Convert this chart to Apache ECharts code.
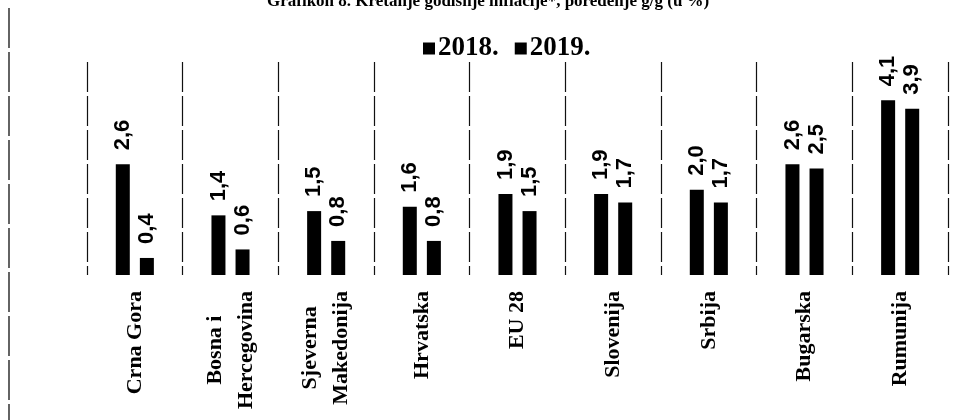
<!DOCTYPE html>
<html>
<head>
<meta charset="utf-8">
<script src="https://cdn.jsdelivr.net/npm/echarts@6/dist/echarts.min.js"></script>
<style>html,body{margin:0;padding:0;background:#fff;}#c{width:971px;height:420px;}</style>
</head>
<body>
<div id="c"></div>
<script>
const titleText = 'Grafikon 8. Kretanje godišnje inflacije*, poređenje g/g (u %)';
const categories = ['Crna Gora', 'Bosna i\nHercegovina', 'Sjeverna\nMakedonija', 'Hrvatska', 'EU 28', 'Slovenija', 'Srbija', 'Bugarska', 'Rumunija'];
const seriesNames = ['2018.', '2019.'];
const values2018 = [2.6, 1.4, 1.5, 1.6, 1.9, 1.9, 2.0, 2.6, 4.1];
const values2019 = [0.4, 0.6, 0.8, 0.8, 1.5, 1.7, 1.7, 2.5, 3.9];
const yMin = 0, yMax = 5;

const chart = echarts.init(document.getElementById('c'), null, {renderer: 'canvas'});
const valLabel = {
  show: true,
  position: 'top',
  rotate: 90,
  align: 'left',
  verticalAlign: 'middle',
  distance: 14,
  fontFamily: 'Liberation Sans',
  fontWeight: 'bold',
  fontSize: 22,
  color: '#000',
  formatter: p => p.value.toFixed(1).replace('.', ',')
};
chart.setOption({
  animation: false,
  backgroundColor: '#fff',
  title: {
    text: titleText,
    left: 262,
    top: -12,
    textStyle: {fontFamily: 'Liberation Serif', fontWeight: 'bold', fontSize: 17, color: '#000'}
  },
  legend: {
    data: seriesNames,
    top: 30,
    left: 418,
    icon: 'rect',
    itemWidth: 12,
    itemHeight: 12,
    itemGap: 16,
    textStyle: {fontFamily: 'Liberation Serif', fontWeight: 'bold', fontSize: 27, color: '#000', padding: [0, 0, 0, -2]}
  },
  grid: {left: 87, right: 23, top: 62, bottom: 145},
  xAxis: {
    type: 'category',
    data: categories,
    axisLine: {show: false},
    axisTick: {show: false},
    splitLine: {show: true, lineStyle: {color: '#111', width: 1.2, type: [30, 4]}},
    axisLabel: {
      interval: 0,
      rotate: 90,
      margin: 16,
      formatter: v => v.split('\n').map(l => '{c|' + l + '}').join('\n'),
      rich: {
        c: {align: 'center', fontFamily: 'Liberation Serif', fontWeight: 'bold', fontSize: 22, lineHeight: 31, color: '#000'}
      }
    }
  },
  yAxis: {
    type: 'value',
    min: yMin,
    max: yMax,
    show: false,
    splitLine: {show: false}
  },
  series: [
    {name: seriesNames[0], type: 'bar', data: values2018, barWidth: 14, barGap: '72%', itemStyle: {color: '#000'}, label: valLabel},
    {name: seriesNames[1], type: 'bar', data: values2019, barWidth: 14, itemStyle: {color: '#000'}, label: valLabel}
  ],
  graphic: [
    {type: 'line', shape: {x1: 9, y1: 8, x2: 9, y2: 420}, style: {stroke: '#111', lineWidth: 1.3, lineDash: [40, 4]}}
  ]
});
</script>
</body>
</html>
